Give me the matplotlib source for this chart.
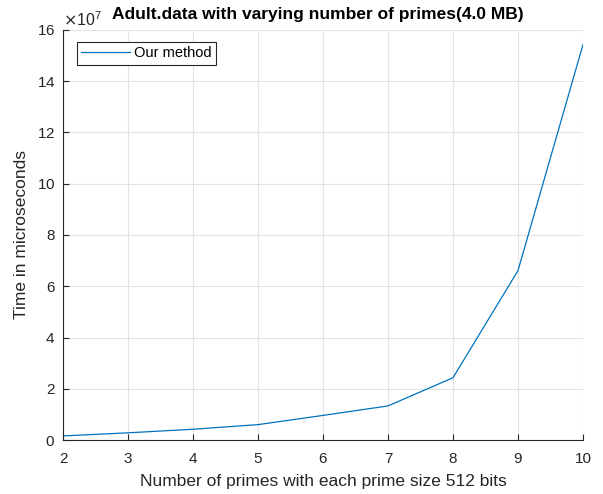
import matplotlib
matplotlib.use("Agg")
import matplotlib.pyplot as plt
from matplotlib.ticker import ScalarFormatter

plt.rcParams['font.family'] = ['Liberation Sans', 'DejaVu Sans']

# timing results (microseconds) for each number of primes
num_primes = [2, 3, 4, 5, 6, 7, 8, 9, 10]
time_us = [0.16e7, 0.28e7, 0.42e7, 0.60e7, 0.96e7, 1.33e7, 2.43e7, 6.61e7, 15.43e7]

fig = plt.figure(figsize=(6.03, 4.94), dpi=100)
ax = fig.add_axes([0.1045, 0.1093, 0.8623, 0.83])

ax.plot(num_primes, time_us, color='#0072BD', lw=0.9, label='Our method')

ax.set_xlim(2, 10)
ax.set_ylim(0, 16e7)
ax.set_xticks(range(2, 11))
ax.set_yticks([i * 2e7 for i in range(9)])

# fixed 10^7 exponent shown above the y axis
fmt = ScalarFormatter(useMathText=True)
fmt.set_powerlimits((7, 7))
ax.yaxis.set_major_formatter(fmt)
ax.yaxis.get_offset_text().set_fontsize(11.5)
ax.yaxis.get_offset_text().set_color('#262626')

ax.grid(True, color='#e3e3e3', lw=0.8)
ax.set_axisbelow(True)
for s in ['top', 'right']:
    ax.spines[s].set_visible(False)
for s in ['left', 'bottom']:
    ax.spines[s].set_color('#262626')
    ax.spines[s].set_linewidth(0.8)
ax.tick_params(direction='in', length=4, width=0.8, colors='#262626', labelsize=11)
ax.tick_params(axis='x', pad=8.5)
ax.tick_params(axis='y', pad=5.5)

ax.set_xlabel('Number of primes with each prime size 512 bits', fontsize=12.5,
              color='#262626', labelpad=6)
ax.set_ylabel('Time in microseconds', fontsize=12.5, color='#262626', labelpad=6)
fig.text(318 / 603, 1 - 15 / 494, 'Adult.data with varying number of primes(4.0 MB)',
         fontsize=12.5, fontweight='bold', ha='center', va='center')

leg = ax.legend(loc='upper left', fontsize=10.5, fancybox=False, edgecolor='#262626',
                framealpha=1, borderpad=0.3, handlelength=3.3, handletextpad=0.3,
                borderaxespad=0, bbox_to_anchor=(0.027, 0.971))
leg.get_frame().set_linewidth(0.8)

fig.savefig('out.png', dpi=100)
